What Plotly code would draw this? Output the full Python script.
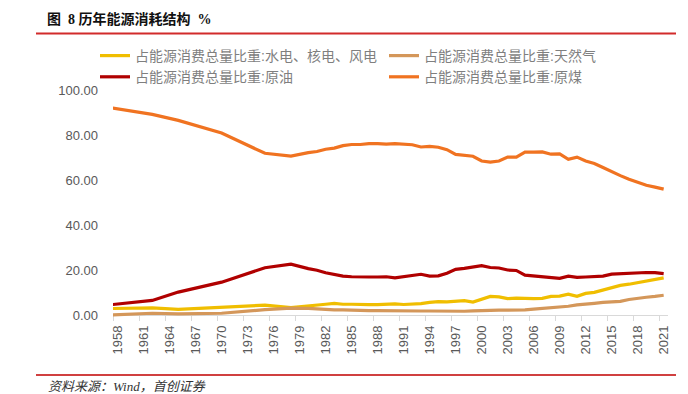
import plotly.graph_objects as go

# ---- data (share of total energy consumption, %) ----
years = [1957, 1962, 1965, 1970, 1975, 1978,
         1980, 1981, 1982, 1983, 1984, 1985, 1986, 1987, 1988, 1989,
         1990, 1991, 1992, 1993, 1994, 1995, 1996, 1997, 1998, 1999,
         2000, 2001, 2002, 2003, 2004, 2005, 2006, 2007, 2008, 2009,
         2010, 2011, 2012, 2013, 2014, 2015, 2016, 2017, 2018, 2019, 2020, 2021]

hydro_nuclear_wind = [3.0, 3.3, 2.6, 3.5, 4.5, 3.4,
                      4.0, 4.5, 4.9, 5.3, 4.9, 4.9, 4.7, 4.7, 4.7, 4.9,
                      5.1, 4.8, 4.9, 5.2, 5.7, 6.1, 6.0, 6.4, 6.5, 5.9,
                      7.3, 8.4, 8.2, 7.4, 7.6, 7.4, 7.4, 7.5, 8.4, 8.5,
                      9.4, 8.4, 9.7, 10.2, 11.3, 12.1, 13.3, 13.8, 14.5, 15.3, 15.9, 16.6]

natural_gas = [0.1, 0.9, 0.6, 0.9, 2.5, 3.2,
               3.1, 2.8, 2.5, 2.4, 2.4, 2.2, 2.3, 2.1, 2.1, 2.0,
               2.1, 2.0, 1.9, 1.9, 1.9, 1.8, 1.8, 1.8, 1.8, 2.0,
               2.2, 2.4, 2.3, 2.3, 2.3, 2.4, 2.7, 3.0, 3.4, 3.5,
               4.0, 4.6, 4.8, 5.3, 5.7, 5.9, 6.2, 7.0, 7.6, 8.0, 8.4, 8.9]

crude_oil = [4.6, 6.6, 10.3, 14.7, 21.1, 22.7,
             20.7, 20.0, 18.9, 18.1, 17.4, 17.1, 17.2, 17.0, 17.0, 17.1,
             16.6, 17.1, 17.5, 18.2, 17.4, 17.5, 18.7, 20.4, 20.8, 21.5,
             22.0, 21.2, 21.0, 20.1, 19.9, 17.8, 17.5, 17.0, 16.7, 16.4,
             17.4, 16.8, 17.0, 17.1, 17.4, 18.3, 18.5, 18.8, 18.9, 19.0, 18.9, 18.5]

raw_coal = [92.3, 89.2, 86.5, 80.9, 71.9, 70.7,
            72.2, 72.7, 73.7, 74.2, 75.3, 75.8, 75.8, 76.2, 76.2, 76.0,
            76.2, 76.1, 75.7, 74.7, 75.0, 74.6, 73.5, 71.4, 70.9, 70.6,
            68.5, 68.0, 68.5, 70.2, 70.2, 72.4, 72.4, 72.5, 71.5, 71.6,
            69.2, 70.2, 68.5, 67.4, 65.6, 63.7, 62.0, 60.4, 59.0, 57.7, 56.9, 56.0]

series_names = ["占能源消费总量比重:水电、核电、风电", "占能源消费总量比重:天然气",
                "占能源消费总量比重:原油", "占能源消费总量比重:原煤"]
series_values = [hydro_nuclear_wind, natural_gas, crude_oil, raw_coal]
series_colors = ["#F0BE00", "#D4975A", "#B00000", "#F07321"]

title_text = "图\u00a0\u00a08\u00a0历年能源消耗结构\u00a0\u00a0%"
source_text = "资料来源：Wind，首创证券"

# ---- layout geometry ----
W, H = 688, 394
L, R, T, B = 113, 20, 90, 76
PW, PH = W - L - R, H - T - B
Y_MIN, Y_MAX = -1.2, 100.0


def px(x):
    return (x - L) / PW


def py(y):
    return (H - B - y) / PH


FONT = "Liberation Sans, Noto Sans CJK SC, sans-serif"

fig = go.Figure()
for name, vals, col in zip(series_names, series_values, series_colors):
    fig.add_trace(go.Scatter(x=years, y=vals, mode="lines", name=name,
                             line=dict(color=col, width=3.2)))

fig.update_layout(
    width=W, height=H,
    margin=dict(l=L, r=R, t=T, b=B, autoexpand=False),
    paper_bgcolor="white", plot_bgcolor="white",
    font=dict(family=FONT, size=13, color="#595959"),
    showlegend=True,
    legend=dict(orientation="h", x=px(95), y=py(40), xanchor="left", yanchor="top",
                entrywidth=244, itemwidth=30, traceorder="normal",
                font=dict(family=FONT, size=14, color="#7F7F7F"),
                bgcolor="rgba(0,0,0,0)", tracegroupgap=0),
    xaxis=dict(range=[1957.47, 2021.5], tickmode="linear", tick0=1958, dtick=3,
               ticks="", showgrid=False, zeroline=False,
               showline=True, linecolor="#D9D9D9", linewidth=1,
               anchor="free", position=(0 - Y_MIN) / (Y_MAX - Y_MIN),
               layer="below traces", tickangle=-90, ticklabelstandoff=4,
               tickfont=dict(size=13, color="#595959"),
               minor=dict(ticks="outside", tick0=1957.5, dtick=3, ticklen=5,
                          tickcolor="#D9D9D9", tickwidth=1, showgrid=False)),
    yaxis=dict(range=[Y_MIN, Y_MAX], tickmode="linear", tick0=0, dtick=20,
               tickformat=".2f", showgrid=False, zeroline=False, showline=False,
               ticks="", ticklabelstandoff=14,
               tickfont=dict(size=13, color="#595959")),
    shapes=[
        dict(type="line", xref="paper", yref="paper", x0=px(36), x1=px(676),
             y0=py(33.5), y1=py(33.5), line=dict(color="#D22B2B", width=2)),
        dict(type="line", xref="paper", yref="paper", x0=px(36), x1=px(676),
             y0=py(375), y1=py(375), line=dict(color="#C00000", width=1.5)),
    ],
    annotations=[
        dict(text="<b>" + title_text + "</b>", xref="paper", yref="paper",
             x=px(45), y=py(19), xanchor="left", yanchor="middle", showarrow=False,
             font=dict(family="Liberation Serif, Noto Sans CJK SC", size=14, color="#111111")),
        dict(text="<i>" + source_text + "</i>", xref="paper", yref="paper",
             x=px(46), y=py(386), xanchor="left", yanchor="middle", showarrow=False,
             font=dict(family="Liberation Serif, Noto Sans CJK SC", size=13, color="#333333")),
    ],
)

fig.write_html("out.html", config={"displayModeBar": False},
               post_script="document.body.style.margin='0';document.body.style.overflow='hidden';")
